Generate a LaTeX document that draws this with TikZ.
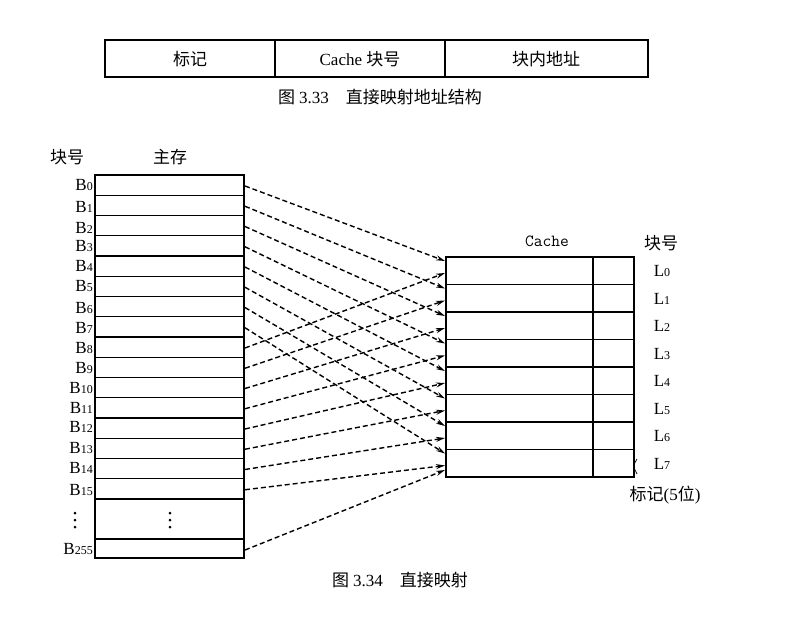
\documentclass[tikz,border=0pt]{standalone}
\usepackage{fontspec}
\setmainfont{Liberation Serif}
\newfontfamily\cjk{Noto Sans CJK SC}
\usetikzlibrary{arrows.meta}
\tikzset{
  box/.style={draw,line width=1.4pt},
  conn/.style={line width=1.4pt,dash pattern=on 5pt off 3pt,-{Stealth[length=9pt,width=5pt]}},
  lbl/.style={font=\fontsize{17}{17}\selectfont,inner sep=0pt},
  cn/.style={font=\cjk\fontsize{17}{17}\selectfont,inner sep=0pt},
  dot/.style={fill,circle,inner sep=0pt,minimum size=3pt}
}
\newcommand{\sml}[1]{{\fontsize{12}{12}\selectfont #1}}
\begin{document}
\begin{tikzpicture}[x=1pt,y=-1pt]
\useasboundingbox (0,0) rectangle (803,616);
% top table
\draw[line width=1.1pt] (105,40) rectangle (648,77);
\draw[line width=1.1pt] (275,40) -- (275,77) (445,40) -- (445,77);
\node[cn] (t1) at (190,59) {标记};
\node[cn] (t2) at (360,59) {\rmfamily Cache \cjk 块号};
\node[cn] (t3) at (546,59) {块内地址};
\node[cn] (cap1) at (380,97) {图 \rmfamily 3.33\quad\cjk 直接映射地址结构};
% main memory
\node[cn] (kh) at (67,157) {块号};
\node[cn] (zc) at (170,157) {主存};
\draw[box] (95,175) rectangle (244,558);
\foreach \i in {1,...,16} {\draw[line width=1.2pt] (95,{175+\i*20.25}) -- (244,{175+\i*20.25});}
\draw[line width=1.2pt] (95,539) -- (244,539);
\foreach \i/\y in {0/185,1/206.5,2/228,3/246,4/266,5/286,6/308,7/328,8/348,9/368,10/388,11/408,12/427,13/448,14/468,15/490} {
  \node[lbl,anchor=east] (b\i) at (93,\y) {B\sml{\i}};
  \coordinate (s\i) at (245,{186+\i*20.25});
}
\node[lbl,anchor=east] (b255) at (93,549) {B\sml{255}};
\coordinate (s255) at (245,550);
\foreach \x/\n in {75/a,170/b} {
  \node[dot] (\n1) at (\x,513) {};
  \node[dot] (\n2) at (\x,520) {};
  \node[dot] (\n3) at (\x,527) {};
}
% cache
\node[font=\ttfamily\fontsize{17}{17}\selectfont] (cl) at (547,241) {Cache};
\node[cn] (kh2) at (661,243) {块号};
\draw[box] (446,257) rectangle (634,477);
\draw[line width=1.2pt] (593,257) -- (593,477);
\foreach \j in {1,...,7} {\draw[line width=1.2pt] (446,{257+\j*27.5}) -- (634,{257+\j*27.5});}
\foreach \j in {0,...,7} {
  \node[lbl] (l\j) at (662,{271+\j*27.5}) {L\sml{\j}};
  \coordinate (ea\j) at (445,{261+\j*27.5});
  \coordinate (eb\j) at (445,{273+\j*27.5});
}
\node[cn] (bj) at (665,495) {标记\rmfamily(5\cjk 位\rmfamily)};
\draw[line width=0.7pt] (637,459) .. controls (633,466) .. (637,474);
% connectors
\foreach \i in {0,...,7} {\draw[conn] (s\i) -- (ea\i);}
\foreach \i [evaluate=\i as \k using int(\i-8)] in {8,...,15} {\draw[conn] (s\i) -- (eb\k);}
\draw[conn] (s255) -- (445,470);
\node[cn] (cap2) at (400,580) {图 \rmfamily 3.34\quad\cjk 直接映射};
\end{tikzpicture}
\end{document}
